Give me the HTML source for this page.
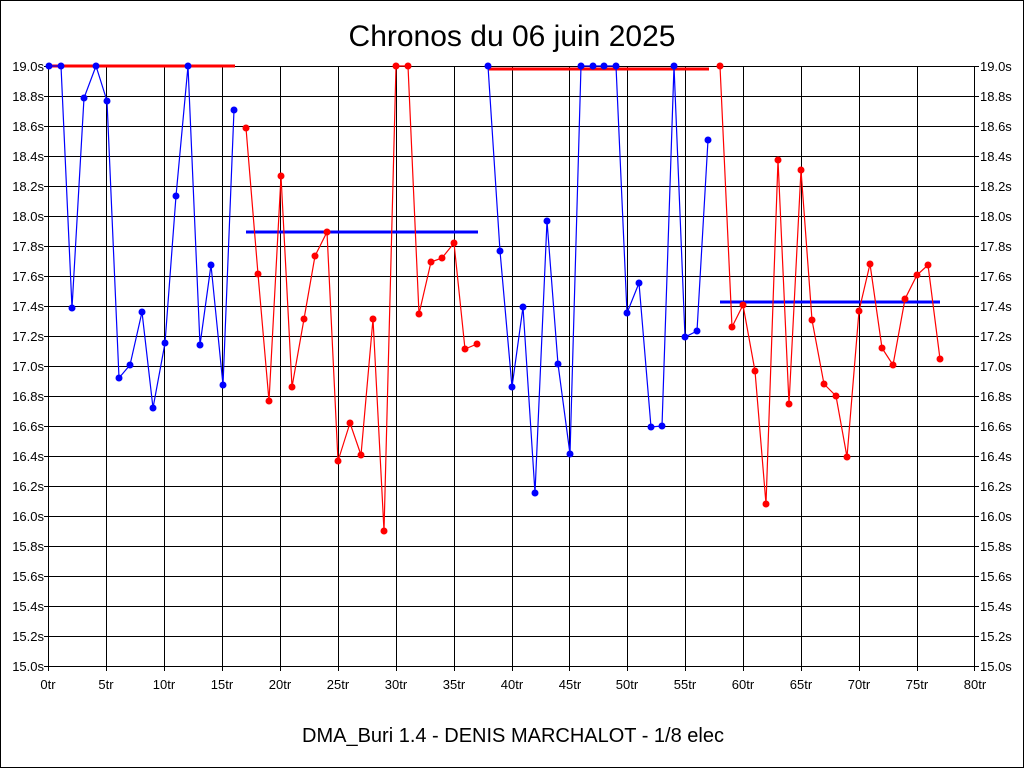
<!DOCTYPE html>
<html><head><meta charset="utf-8"><style>
html,body{margin:0;padding:0;background:#fff;}
svg{display:block;font-family:"Liberation Sans",sans-serif;}
</style></head><body>
<svg width="1024" height="768" viewBox="0 0 1024 768" xmlns="http://www.w3.org/2000/svg">
<rect x="0.5" y="0.5" width="1023" height="767" fill="#fff" stroke="#000"/>
<text x="512" y="46" font-size="30" text-anchor="middle">Chronos du 06 juin 2025</text>
<text x="513" y="742" font-size="20" text-anchor="middle">DMA_Buri 1.4 - DENIS MARCHALOT - 1/8 elec</text>
<g stroke="#000" stroke-width="1" shape-rendering="crispEdges">
<rect x="48.5" y="66.5" width="926" height="600" fill="none"/>
<path d="M48 96.5H975M48 126.5H975M48 156.5H975M48 186.5H975M48 216.5H975M48 246.5H975M48 276.5H975M48 306.5H975M48 336.5H975M48 366.5H975M48 396.5H975M48 426.5H975M48 456.5H975M48 486.5H975M48 516.5H975M48 546.5H975M48 576.5H975M48 606.5H975M48 636.5H975"/>
<path d="M106.5 66V671M164.5 66V671M222.5 66V671M280.5 66V671M338.5 66V671M396.5 66V671M454.5 66V671M512.5 66V671M569.5 66V671M627.5 66V671M685.5 66V671M743.5 66V671M801.5 66V671M859.5 66V671M917.5 66V671M48.5 666V671M974.5 666V671"/>
<path d="M44 66.5H48M44 96.5H48M44 126.5H48M44 156.5H48M44 186.5H48M44 216.5H48M44 246.5H48M44 276.5H48M44 306.5H48M44 336.5H48M44 366.5H48M44 396.5H48M44 426.5H48M44 456.5H48M44 486.5H48M44 516.5H48M44 546.5H48M44 576.5H48M44 606.5H48M44 636.5H48M44 666.5H48"/>
<path d="M975 66.5H979M975 96.5H979M975 126.5H979M975 156.5H979M975 186.5H979M975 216.5H979M975 246.5H979M975 276.5H979M975 306.5H979M975 336.5H979M975 366.5H979M975 396.5H979M975 426.5H979M975 456.5H979M975 486.5H979M975 516.5H979M975 546.5H979M975 576.5H979M975 606.5H979M975 636.5H979M975 666.5H979"/>
</g>
<g font-size="13" text-anchor="end">
<text x="44" y="71">19.0s</text><text x="44" y="101">18.8s</text><text x="44" y="131">18.6s</text><text x="44" y="161">18.4s</text><text x="44" y="191">18.2s</text><text x="44" y="221">18.0s</text><text x="44" y="251">17.8s</text><text x="44" y="281">17.6s</text><text x="44" y="311">17.4s</text><text x="44" y="341">17.2s</text><text x="44" y="371">17.0s</text><text x="44" y="401">16.8s</text><text x="44" y="431">16.6s</text><text x="44" y="461">16.4s</text><text x="44" y="491">16.2s</text><text x="44" y="521">16.0s</text><text x="44" y="551">15.8s</text><text x="44" y="581">15.6s</text><text x="44" y="611">15.4s</text><text x="44" y="641">15.2s</text><text x="44" y="671">15.0s</text>
</g>
<g font-size="13" text-anchor="start">
<text x="980" y="71">19.0s</text><text x="980" y="101">18.8s</text><text x="980" y="131">18.6s</text><text x="980" y="161">18.4s</text><text x="980" y="191">18.2s</text><text x="980" y="221">18.0s</text><text x="980" y="251">17.8s</text><text x="980" y="281">17.6s</text><text x="980" y="311">17.4s</text><text x="980" y="341">17.2s</text><text x="980" y="371">17.0s</text><text x="980" y="401">16.8s</text><text x="980" y="431">16.6s</text><text x="980" y="461">16.4s</text><text x="980" y="491">16.2s</text><text x="980" y="521">16.0s</text><text x="980" y="551">15.8s</text><text x="980" y="581">15.6s</text><text x="980" y="611">15.4s</text><text x="980" y="641">15.2s</text><text x="980" y="671">15.0s</text>
</g>
<g font-size="13" text-anchor="middle">
<text x="48" y="689">0tr</text><text x="106" y="689">5tr</text><text x="164" y="689">10tr</text><text x="222" y="689">15tr</text><text x="280" y="689">20tr</text><text x="338" y="689">25tr</text><text x="396" y="689">30tr</text><text x="454" y="689">35tr</text><text x="512" y="689">40tr</text><text x="570" y="689">45tr</text><text x="627" y="689">50tr</text><text x="685" y="689">55tr</text><text x="743" y="689">60tr</text><text x="801" y="689">65tr</text><text x="859" y="689">70tr</text><text x="917" y="689">75tr</text><text x="975" y="689">80tr</text>
</g>
<g stroke-width="3">
<line x1="48" y1="66" x2="235" y2="66" stroke="#f00"/>
<line x1="246" y1="232" x2="478" y2="232" stroke="#00f"/>
<line x1="488" y1="69" x2="709" y2="69" stroke="#f00"/>
<line x1="720" y1="302" x2="940" y2="302" stroke="#00f"/>
</g>
<g fill="none" stroke-width="1.2">
<polyline stroke="#00f" points="49,66 61,66 72,308 84,98 96,66 107,101 119,378 130,365 142,312 153,408 165,343 176,196 188,66 200,345 211,265 223,385 234,110"/>
<polyline stroke="#f00" points="246,128 258,274 269,401 281,176 292,387 304,319 315,256 327,232 338,461 350,423 361,455 373,319 384,531 396,66 408,66 419,314 431,262 442,258 454,243 465,349 477,344"/>
<polyline stroke="#00f" points="488,66 500,251 512,387 523,307 535,493 547,221 558,364 570,454 581,66 593,66 604,66 616,66 627,313 639,283 651,427 662,426 674,66 685,337 697,331 708,140"/>
<polyline stroke="#f00" points="720,66 732,327 743,305 755,371 766,504 778,160 789,404 801,170 812,320 824,384 836,396 847,457 859,311 870,264 882,348 893,365 905,299 917,275 928,265 940,359"/>
</g>
<g fill="#00f">
<circle cx="49" cy="66" r="3.5"/><circle cx="61" cy="66" r="3.5"/><circle cx="72" cy="308" r="3.5"/><circle cx="84" cy="98" r="3.5"/><circle cx="96" cy="66" r="3.5"/><circle cx="107" cy="101" r="3.5"/><circle cx="119" cy="378" r="3.5"/><circle cx="130" cy="365" r="3.5"/><circle cx="142" cy="312" r="3.5"/><circle cx="153" cy="408" r="3.5"/><circle cx="165" cy="343" r="3.5"/><circle cx="176" cy="196" r="3.5"/><circle cx="188" cy="66" r="3.5"/><circle cx="200" cy="345" r="3.5"/><circle cx="211" cy="265" r="3.5"/><circle cx="223" cy="385" r="3.5"/><circle cx="234" cy="110" r="3.5"/>
<circle cx="488" cy="66" r="3.5"/><circle cx="500" cy="251" r="3.5"/><circle cx="512" cy="387" r="3.5"/><circle cx="523" cy="307" r="3.5"/><circle cx="535" cy="493" r="3.5"/><circle cx="547" cy="221" r="3.5"/><circle cx="558" cy="364" r="3.5"/><circle cx="570" cy="454" r="3.5"/><circle cx="581" cy="66" r="3.5"/><circle cx="593" cy="66" r="3.5"/><circle cx="604" cy="66" r="3.5"/><circle cx="616" cy="66" r="3.5"/><circle cx="627" cy="313" r="3.5"/><circle cx="639" cy="283" r="3.5"/><circle cx="651" cy="427" r="3.5"/><circle cx="662" cy="426" r="3.5"/><circle cx="674" cy="66" r="3.5"/><circle cx="685" cy="337" r="3.5"/><circle cx="697" cy="331" r="3.5"/><circle cx="708" cy="140" r="3.5"/>
</g>
<g fill="#f00">
<circle cx="246" cy="128" r="3.5"/><circle cx="258" cy="274" r="3.5"/><circle cx="269" cy="401" r="3.5"/><circle cx="281" cy="176" r="3.5"/><circle cx="292" cy="387" r="3.5"/><circle cx="304" cy="319" r="3.5"/><circle cx="315" cy="256" r="3.5"/><circle cx="327" cy="232" r="3.5"/><circle cx="338" cy="461" r="3.5"/><circle cx="350" cy="423" r="3.5"/><circle cx="361" cy="455" r="3.5"/><circle cx="373" cy="319" r="3.5"/><circle cx="384" cy="531" r="3.5"/><circle cx="396" cy="66" r="3.5"/><circle cx="408" cy="66" r="3.5"/><circle cx="419" cy="314" r="3.5"/><circle cx="431" cy="262" r="3.5"/><circle cx="442" cy="258" r="3.5"/><circle cx="454" cy="243" r="3.5"/><circle cx="465" cy="349" r="3.5"/><circle cx="477" cy="344" r="3.5"/>
<circle cx="720" cy="66" r="3.5"/><circle cx="732" cy="327" r="3.5"/><circle cx="743" cy="305" r="3.5"/><circle cx="755" cy="371" r="3.5"/><circle cx="766" cy="504" r="3.5"/><circle cx="778" cy="160" r="3.5"/><circle cx="789" cy="404" r="3.5"/><circle cx="801" cy="170" r="3.5"/><circle cx="812" cy="320" r="3.5"/><circle cx="824" cy="384" r="3.5"/><circle cx="836" cy="396" r="3.5"/><circle cx="847" cy="457" r="3.5"/><circle cx="859" cy="311" r="3.5"/><circle cx="870" cy="264" r="3.5"/><circle cx="882" cy="348" r="3.5"/><circle cx="893" cy="365" r="3.5"/><circle cx="905" cy="299" r="3.5"/><circle cx="917" cy="275" r="3.5"/><circle cx="928" cy="265" r="3.5"/><circle cx="940" cy="359" r="3.5"/>
</g>
</svg>
</body></html>
